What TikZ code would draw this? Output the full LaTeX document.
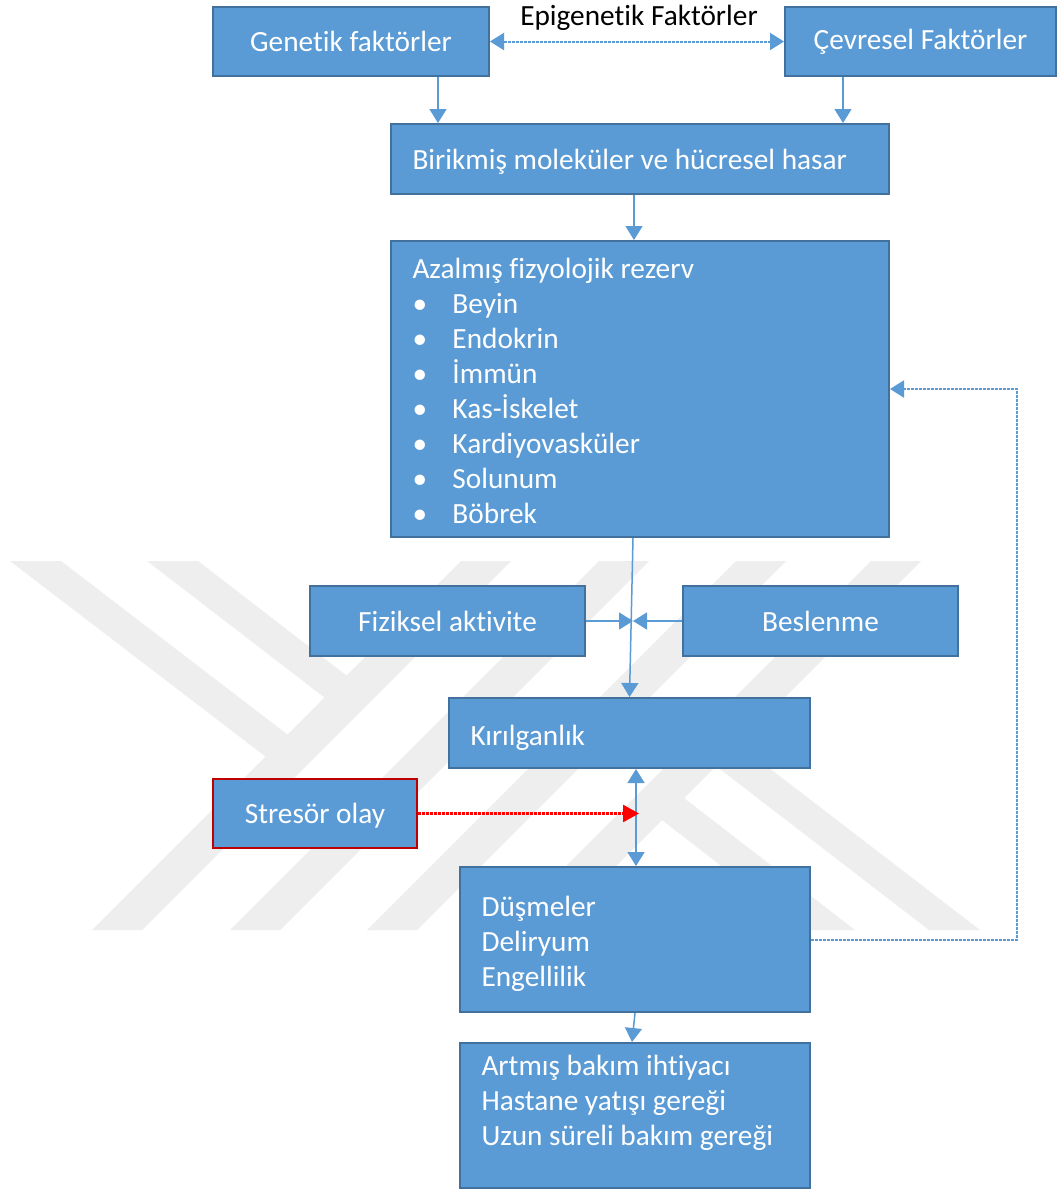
\documentclass[tikz,border=0pt]{standalone}
\usepackage{fontspec}
\setmainfont{Carlito}[Ligatures={NoCommon,NoRequired,NoContextual}]
\usetikzlibrary{arrows.meta,calc}
\definecolor{boxfill}{HTML}{5B9BD5}
\definecolor{boxline}{HTML}{41719C}
\definecolor{conncol}{HTML}{5B9BD5}
\definecolor{strline}{HTML}{C00000}
\definecolor{redline}{HTML}{FF0000}
\definecolor{wmark}{HTML}{EEEEEE}
\newcommand{\bfnt}{\fontsize{29.3}{35}\selectfont}
\newcommand{\bul}{\makebox[40pt][l]{\textbullet}}
\newcommand{\nsp}{\spaceskip=0pt\xspaceskip=0pt\relax}
\newcommand{\tallr}[1]{\rule{0pt}{#1}}
\begin{document}
\begin{tikzpicture}[x=1pt,y=-1pt,
  >={Triangle[length=14pt,width=17pt]},
  blockc/.style={draw=boxline, fill=boxfill, line width=2pt, text=white, font=\bfnt, align=center, inner sep=0pt},
  blockl/.style={draw=boxline, fill=boxfill, line width=2pt, text=white, font=\bfnt, align=left, inner ysep=0pt, inner xsep=21.5pt},
  conn/.style={color=conncol, line width=1.5pt, ->},
  dotconn/.style={color=conncol, line width=2pt, dash pattern=on 3pt off 1pt},
  redconn/.style={color=redline, line width=2.5pt, dash pattern=on 3pt off 1pt, -{Triangle[length=16pt,width=17pt]}}
]
\useasboundingbox (0,0) rectangle (1057,1191);
\fill[white] (0,0) rectangle (1057,1191);
% watermark
\fill[wmark] (461,561) -- (511,561) -- (142,930) -- (92,930) -- cycle;
\fill[wmark] (599,561) -- (649,561) -- (280,930) -- (230,930) -- cycle;
\fill[wmark] (736,561) -- (786,561) -- (417,930) -- (367,930) -- cycle;
\fill[wmark] (871,561) -- (921,561) -- (552,930) -- (502,930) -- cycle;
\fill[wmark] (10,561) -- (61,561) -- (292,738) -- (270,760) -- cycle;
\fill[wmark] (147,561) -- (198,561) -- (351,679) -- (329,701) -- cycle;
\fill[wmark] (658,817) -- (680,795) -- (855,930) -- (804,930) -- cycle;
\fill[wmark] (712,763) -- (734,741) -- (980,930) -- (929,930) -- cycle;

% boxes
\node[blockc, minimum width=276pt, minimum height=69pt] (gen) at (351,41.5) {Genetik faktörler};
\node[blockc, minimum width=271pt, minimum height=69pt] (cev) at (920.5,41.5) {Çevresel Faktörler};
\node[font=\bfnt, text=black, inner sep=0pt] (epi) at (639,18) {Epigenetik Faktörler};
\node[blockl, text width=455pt, minimum height=70pt] (biri) at (640,159) {\nsp\tallr{26.5pt}Birikmiş moleküler ve hücresel hasar};
\node[blockl, text width=455pt, minimum height=296pt] (azal) at (640,389) {\nsp\tallr{24.5pt}Azalmış fizyolojik rezerv\\
\bul Beyin\\ \bul Endokrin\\ \bul İmmün\\ \bul Kas-İskelet\\ \bul Kardiyovasküler\\ \bul Solunum\\ \bul Böbrek};
\node[blockc, minimum width=275pt, minimum height=70pt] (fiz) at (447.5,621) {Fiziksel aktivite};
\node[blockc, minimum width=275pt, minimum height=70pt] (bes) at (820.5,621) {Beslenme};
\node[blockl, text width=318pt, minimum height=70pt] (kir) at (629.5,733) {\nsp\tallr{30pt}Kırılganlık};
\node[blockc, draw=strline, line width=2.5pt, minimum width=204pt, minimum height=69pt] (str) at (315,813.5) {\tallr{24pt}Stresör olay};
\node[blockl, text width=307pt, minimum height=145pt] (dus) at (635,939.5) {\nsp\tallr{30pt}Düşmeler\\ Deliryum\\ Engellilik};
\node[blockl, text width=307pt, minimum height=145pt] (art) at (635,1115.5) {\nsp\tallr{24.5pt}Artmış bakım ihtiyacı\\ Hastane yatışı gereği\\ Uzun süreli bakım gereği\\ \mbox{}};

\coordinate (mid) at (633,621);
\coordinate (strtip) at (639,813.5);

% connectors
\draw[dotconn, <->] (gen.east) -- (cev.west);
\draw[conn] ($(gen.south)+(87,0)$) coordinate (g1) -- (g1 |- biri.north);
\draw[conn] ($(cev.south)+(-77.5,0)$) coordinate (c1) -- (c1 |- biri.north);
\draw[conn] ($(biri.south)+(-6,0)$) coordinate (b1) -- (b1 |- azal.north);
\draw[conn] ($(azal.south)+(-7,0)$) -- (kir.north);
\draw[conn] (fiz.east) -- (mid);
\draw[conn] (bes.west) -- (mid);
\draw[conn, <->] ($(kir.south)+(6.5,0)$) coordinate (k1) -- (k1 |- dus.north);
\draw[redconn] (str.east) -- (strtip);
\draw[conn] (dus.south) -- ($(art.north)+(-3,0)$);
\draw[dotconn, ->] (dus.east) -- ++(206,0) |- (azal.east);
\end{tikzpicture}
\end{document}
